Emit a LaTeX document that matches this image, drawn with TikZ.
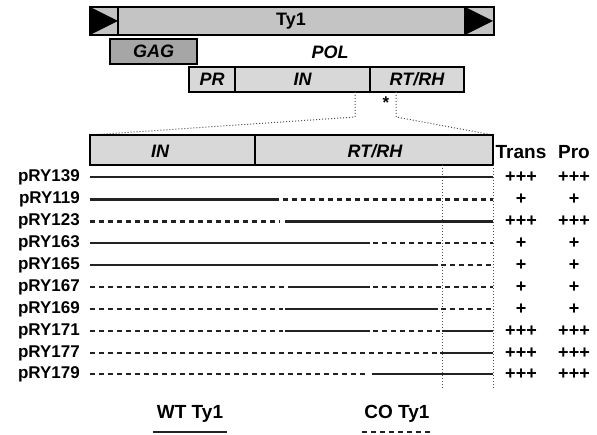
\documentclass[tikz,border=0pt]{standalone}
\usepackage{fontspec}
\setmainfont{Liberation Sans}
\definecolor{tyfill}{HTML}{C4C4C4}
\definecolor{gagfill}{HTML}{A6A6A6}
\definecolor{polfill}{HTML}{D8D8D8}
\definecolor{linec}{HTML}{222222}
\begin{document}
\begin{tikzpicture}[x=1pt,y=-1pt,
  lbl/.style={font=\fontsize{18}{20}\selectfont\bfseries, inner sep=0pt},
  ilbl/.style={font=\fontsize{18}{20}\selectfont\bfseries\itshape, inner sep=0pt},
  box/.style={draw=black, line width=1.5pt},
  sol/.style={draw=linec, line width=2.2pt},
  dsh/.style={draw=linec, line width=2.2pt, dash pattern=on 5pt off 4pt},
  dot/.style={draw=black!70, line width=1pt, dotted},
  rowlbl/.style={font=\fontsize{17}{19}\selectfont\bfseries, inner sep=0pt, anchor=east},
  val/.style={font=\fontsize{18}{20}\selectfont\bfseries, inner sep=0pt}]
\useasboundingbox (0,0) rectangle (597,435);
% Ty1 bar
\fill[tyfill] (90,7) rectangle (494,35);
\fill[black] (90,7) -- (118,21) -- (90,35) -- cycle;
\fill[black] (465,7) -- (493,21) -- (465,35) -- cycle;
\draw[line width=2.5pt] (90,7) rectangle (494,35);
\draw[line width=2.5pt] (118,7) -- (118,35);
\draw[line width=2.5pt] (465,7) -- (465,35);
\node[lbl] (ty1) at (291,21) {Ty1};
% GAG
\draw[box, fill=gagfill] (110,39) rectangle (197,64);
\node[ilbl] (gag) at (153.5,51.5) {GAG};
\node[ilbl] (pol) at (330,52) {POL};
% PR IN RT/RH
\draw[box, fill=polfill] (189,67) rectangle (464,92);
\draw[box] (235,67) -- (235,92);
\draw[box] (370,67) -- (370,92);
\node[ilbl] (pr) at (212,79.5) {PR};
\node[ilbl] (in1) at (302.5,79.5) {IN};
\node[ilbl] (rt1) at (417,79.5) {RT/RH};
\node[font=\fontsize{17}{18}\selectfont\bfseries, inner sep=0pt] (ast) at (386,103) {*};
% zoom dotted lines
\coordinate (za) at (355,92);
\coordinate (zb) at (396,92);
\draw[dot] (za) -- (355,117) -- (90,135);
\draw[dot] (zb) -- (396,117) -- (493,135);
% big box
\draw[box, fill=polfill] (90,135) rectangle (493,165);
\draw[line width=2.4pt] (255,135) -- (255,165);
\node[ilbl] (in2) at (160,151) {IN};
\node[ilbl] (rt2) at (375,151) {RT/RH};
\node[font=\fontsize{19}{21}\selectfont\bfseries, inner sep=0pt] (trans) at (521,152) {Trans};
\node[font=\fontsize{19}{21}\selectfont\bfseries, inner sep=0pt] (pro) at (574,152) {Pro};
% vertical dotted markers
\draw[dot] (442,165) -- (442,388);
\draw[dot] (493,165) -- (493,388);
% rows
\def\ya{177}\def\yb{199.5}\def\yc{221.5}\def\yd{243}\def\ye{265}
\def\yf{287}\def\yg{309}\def\yh{331}\def\yi{353}\def\yj{374}
\node[rowlbl] (r1) at (80,\ya) {pRY139};
\node[rowlbl] (r2) at (80,\yb) {pRY119};
\node[rowlbl] (r3) at (80,\yc) {pRY123};
\node[rowlbl] (r4) at (80,\yd) {pRY163};
\node[rowlbl] (r5) at (80,\ye) {pRY165};
\node[rowlbl] (r6) at (80,\yf) {pRY167};
\node[rowlbl] (r7) at (80,\yg) {pRY169};
\node[rowlbl] (r8) at (80,\yh) {pRY171};
\node[rowlbl] (r9) at (80,\yi) {pRY177};
\node[rowlbl] (r10) at (80,\yj) {pRY179};
% pRY139
\draw[sol] (90,\ya) -- (493,\ya);
% pRY119
\draw[sol] (90,\yb) -- (279,\yb);
\draw[dsh] (283,\yb) -- (493,\yb);
% pRY123
\draw[dsh] (90,\yc) -- (280,\yc);
\draw[sol] (285,\yc) -- (493,\yc);
% pRY163
\draw[sol] (90,\yd) -- (370,\yd);
\draw[dsh] (373,\yd) -- (493,\yd);
% pRY165
\draw[sol] (90,\ye) -- (438,\ye);
\draw[dsh] (441,\ye) -- (493,\ye);
% pRY167
\draw[dsh] (90,\yf) -- (286,\yf);
\draw[sol] (288,\yf) -- (370,\yf);
\draw[dsh] (373,\yf) -- (493,\yf);
% pRY169
\draw[dsh] (90,\yg) -- (283,\yg);
\draw[sol] (285,\yg) -- (438,\yg);
\draw[dsh] (441,\yg) -- (493,\yg);
% pRY171
\draw[dsh] (90,\yh) -- (283,\yh);
\draw[sol] (285,\yh) -- (370,\yh);
\draw[dsh] (373,\yh) -- (440,\yh);
\draw[sol] (442,\yh) -- (493,\yh);
% pRY177
\draw[dsh] (90,\yi) -- (438,\yi);
\draw[sol] (440,\yi) -- (493,\yi);
% pRY179
\draw[dsh] (90,\yj) -- (368,\yj);
\draw[sol] (372,\yj) -- (493,\yj);
% values
\foreach \y/\t/\n in {\ya/+++/1,\yb/+/2,\yc/+++/3,\yd/+/4,\ye/+/5,\yf/+/6,\yg/+/7,\yh/+++/8,\yi/+++/9,\yj/+++/10}{
  \node[val] (t\n) at (521,\y) {\t};
  \node[val] (p\n) at (574,\y) {\t};
}
% legend
\node[font=\fontsize{19}{21}\selectfont\bfseries, inner sep=0pt] (wt) at (190,414) {WT Ty1};
\node[font=\fontsize{19}{21}\selectfont\bfseries, inner sep=0pt] (co) at (397,414) {CO Ty1};
\draw[sol] (153,432) -- (227,432);
\draw[dsh] (362,432) -- (433,432);
\end{tikzpicture}
\end{document}
